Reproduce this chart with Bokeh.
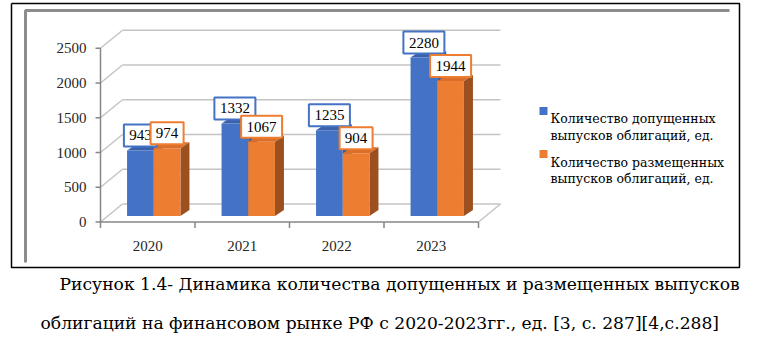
from bokeh.plotting import figure
from bokeh.models import Range1d
from bokeh.core.properties import value
from bokeh.embed import file_html
from bokeh.resources import INLINE

# ---------------- data ----------------
years = ["2020", "2021", "2022", "2023"]
admitted = [943, 1332, 1235, 2280]
placed = [974, 1067, 904, 1944]
y_ticks = [0, 500, 1000, 1500, 2000, 2500]
y_tick_labels = ["0", "500", "1000", "1500", "2000", "2500"]
series_names = [
    "Количество допущенных\nвыпусков облигаций, ед.",
    "Количество размещенных\nвыпусков облигаций, ед.",
]
caption_lines = [
    "Рисунок 1.4- Динамика количества допущенных и размещенных выпусков",
    "облигаций на финансовом рынке РФ с 2020-2023гг., ед. [3, с. 287][4,с.288]",
]

# ---------------- layout helpers (pixel -> data) ----------------
W, H = 765, 357
X0, XS = 147.25, 94.5      # px of first category centre, px per category
Y0, YS = 221.5, 0.0695     # px of value 0 (front plane), px per unit


def X(px):
    return (px - X0) / XS


def Y(py):
    return (Y0 - py) / YS


def dx(px):
    return px / XS


def dy(py):
    return py / YS


NUM_FONT = value("Liberation Serif")
CYR_FONT = value("DejaVu Serif")
BLUE, BLUE_TOP, BLUE_SIDE = "#4472C4", "#3A62AC", "#2E5597"
ORANGE, ORANGE_TOP, ORANGE_SIDE = "#ED7D31", "#DB6E29", "#9C5020"
GRID = "#C4C4C4"
AXIS = "#868686"

p = figure(width=W, height=H, x_range=Range1d(X(0), X(W)), y_range=Range1d(Y(H), Y(0)),
           output_backend="svg", toolbar_location=None, min_border=0,
           x_axis_type=None, y_axis_type=None)
p.grid.visible = False
p.outline_line_color = None
p.background_fill_color = "white"
p.border_fill_color = "white"

# ---------------- frames ----------------
p.line([X(11), X(739), X(739), X(11), X(11)], [Y(3), Y(3), Y(267), Y(267), Y(3)],
       line_color="black", line_width=1.5)
p.line([X(25), X(25), X(729)], [Y(262), Y(10), Y(10)], line_color="#8C8C8C", line_width=3)

# ---------------- 3D walls ----------------
n = len(years)
left_edge, right_edge = -0.5, n - 0.5
DX, DY = dx(22), dy(18)
back_xs = [[left_edge + DX, right_edge + DX] for _ in y_ticks]
back_ys = [[t + DY, t + DY] for t in y_ticks]
p.multi_line(back_xs, back_ys, line_color=GRID, line_width=1.5)
side_xs = [[left_edge, left_edge + DX] for _ in y_ticks]
side_ys = [[t, t + DY] for t in y_ticks]
p.multi_line(side_xs, side_ys, line_color=GRID, line_width=1.5)
p.line([right_edge, right_edge + DX], [0, DY], line_color=GRID, line_width=1.5)

# axes
p.line([left_edge, left_edge], [y_ticks[0], y_ticks[-1]], line_color=AXIS, line_width=1.5)
p.multi_line([[left_edge - dx(5), left_edge] for _ in y_ticks], [[t, t] for t in y_ticks],
             line_color=AXIS, line_width=1.5)
p.text(x=[left_edge - dx(14)] * len(y_ticks), y=y_ticks, text=y_tick_labels,
       text_font=NUM_FONT, text_font_size="15px", text_align="right", text_baseline="middle",
       text_color="#262626")
p.line([left_edge, right_edge], [0, 0], line_color=AXIS, line_width=1.5)
bounds = [i - 0.5 for i in range(n + 1)]
p.multi_line([[b, b] for b in bounds], [[0, -dy(6)] for _ in bounds], line_color=AXIS, line_width=1.5)
p.text(x=list(range(n)), y=[-dy(24)] * n, text=years, text_font=NUM_FONT, text_font_size="15px",
       text_align="center", text_baseline="middle", text_color="#262626")

# ---------------- bars ----------------
BX, BY = dx(6), dy(6)
BW = dx(26.7)
TX, TY = dx(9), dy(6)


def draw_series(vals, offset, front, top_c, side_c):
    lefts = [i + BX + offset for i in range(n)]
    rights = [l + BW for l in lefts]
    tops = [v + BY for v in vals]
    side_xs = [[r, r + TX, r + TX, r] for r in rights]
    side_ys = [[BY, BY + TY, t + TY, t] for t in tops]
    p.patches(side_xs, side_ys, fill_color=side_c, line_color=None)
    top_xs = [[l, r, r + TX, l + TX] for l, r in zip(lefts, rights)]
    top_ys = [[t, t, t + TY, t + TY] for t in tops]
    p.patches(top_xs, top_ys, fill_color=top_c, line_color=None)
    p.quad(left=lefts, right=rights, bottom=[BY] * n, top=tops, fill_color=front, line_color=None)
    return [(l + r) / 2 for l, r in zip(lefts, rights)], tops


bx, btops = draw_series(admitted, -BW, BLUE, BLUE_TOP, BLUE_SIDE)
ox, otops = draw_series(placed, 0, ORANGE, ORANGE_TOP, ORANGE_SIDE)


def draw_labels(xs, tops, vals, color):
    ys = [t + dy(15) for t in tops]
    widths = [9 + 8 * len(str(v)) for v in vals]
    p.rect(x=xs, y=ys, width=widths, height=[22] * n, width_units="screen", height_units="screen",
           fill_color="white", line_color=color, line_width=2)
    p.text(x=xs, y=ys, text=[str(v) for v in vals], text_font=NUM_FONT, text_font_size="15px",
           text_align="center", text_baseline="middle", text_color="black")


draw_labels(bx, btops, admitted, BLUE)
draw_labels(ox, otops, placed, ORANGE)

# ---------------- legend ----------------
leg_colors = [BLUE, ORANGE]
leg_sq_y = [110.5, 153.5]
leg_base = [[118, 134.5], [162, 178]]
for name, col, sy, bases in zip(series_names, leg_colors, leg_sq_y, leg_base):
    p.rect(x=[X(543)], y=[Y(sy)], width=[8], height=[8], width_units="screen",
           height_units="screen", fill_color=col, line_color=None)
    lines = name.split("\n")
    p.text(x=[X(550)] * len(lines), y=[Y(b) for b in bases], text=lines, text_font=CYR_FONT,
           text_font_size="12.5px", text_align="left", text_baseline="alphabetic",
           text_color="black")

# ---------------- caption ----------------
cap_x = [59, 40]
cap_base = [283, 322]
p.text(x=[X(v) for v in cap_x], y=[Y(v) for v in cap_base], text=caption_lines, text_font=CYR_FONT,
       text_font_size="17.15px", text_align="left", text_baseline="alphabetic", text_color="black")

open("out.html", "w").write(file_html(p, INLINE))
